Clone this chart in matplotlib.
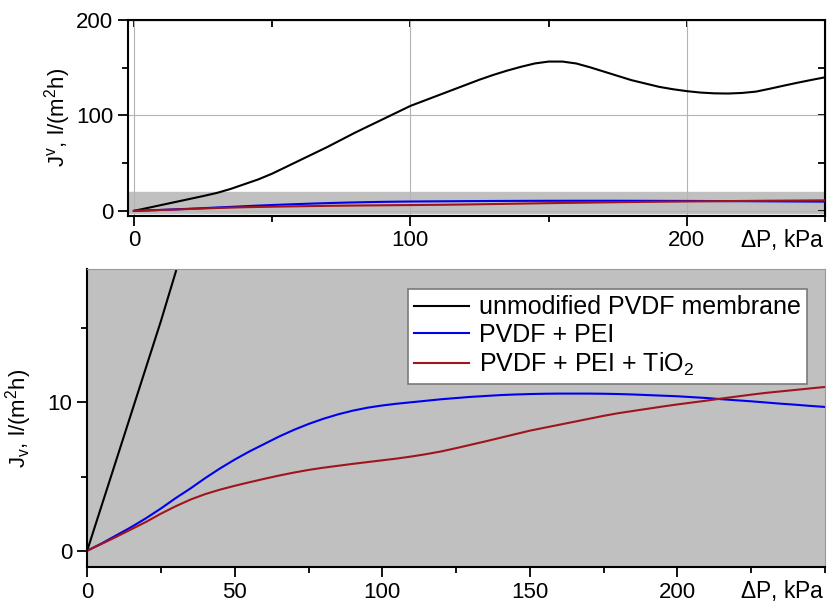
import matplotlib.pyplot as plt
from matplotlib.ticker import MultipleLocator

plt.rcParams['font.family'] = ['Liberation Sans', 'DejaVu Sans']
plt.rcParams['mathtext.fontset'] = 'custom'
plt.rcParams['mathtext.rm'] = 'Liberation Sans'
plt.rcParams['mathtext.it'] = 'Liberation Sans'

# pressure, kPa
dp = [0, 5, 10, 15, 20, 25, 30, 35, 40, 45, 50, 55, 60, 65, 70, 75, 80, 85,
      90, 95, 100, 105, 110, 115, 120, 125, 130, 135, 140, 145, 150, 155,
      160, 165, 170, 175, 180, 185, 190, 195, 200, 205, 210, 215, 220, 225,
      230, 235, 240, 245, 250]

# flux, l/(m2 h)
j_pvdf = [0, 3.1, 6.2, 9.3, 12.4, 15.5, 18.8, 23, 28, 33, 39, 46, 53, 60,
          67, 74.5, 82, 89, 96, 103, 110, 115.5, 121, 126.5, 132, 137.5,
          142.5, 147, 151, 154.5, 156.5, 156.5, 154.5, 150.5, 146, 141.5,
          137, 133.5, 130, 127.5, 125.5, 124, 123.2, 123, 123.6, 125, 128,
          131.2, 134.3, 137.2, 140]
j_pei = [0, 0.5, 1.05, 1.6, 2.2, 2.85, 3.55, 4.2, 4.9, 5.55, 6.15, 6.7, 7.2,
         7.7, 8.15, 8.55, 8.9, 9.2, 9.45, 9.65, 9.8, 9.92, 10.02, 10.12,
         10.22, 10.3, 10.38, 10.44, 10.5, 10.54, 10.57, 10.59, 10.6, 10.6,
         10.6, 10.59, 10.57, 10.54, 10.5, 10.46, 10.42, 10.36, 10.3, 10.22,
         10.15, 10.08, 10.0, 9.92, 9.85, 9.77, 9.7]
j_tio2 = [0, 0.47, 0.95, 1.45, 1.95, 2.5, 3.0, 3.45, 3.82, 4.12, 4.38, 4.62,
          4.85, 5.07, 5.27, 5.45, 5.6, 5.73, 5.86, 5.98, 6.1, 6.22, 6.36,
          6.52, 6.7, 6.92, 7.15, 7.38, 7.62, 7.86, 8.1, 8.3, 8.5, 8.7, 8.9,
          9.1, 9.28, 9.43, 9.58, 9.73, 9.87, 10.0, 10.13, 10.27, 10.4, 10.53,
          10.65, 10.75, 10.85, 10.95, 11.05]

labels = ['unmodified PVDF membrane', 'PVDF + PEI', r'PVDF + PEI + TiO$_2$']
colors = ['black', '#0000ee', '#a0141e']
series = [j_pvdf, j_pei, j_tio2]

zoom_y = (-1.1, 19.0)
fs = 16

fig = plt.figure(figsize=(8.3, 6.08), dpi=100)

# ---- top panel: full range ----
ax1 = fig.add_axes([0.154, 0.645, 0.840, 0.322])
ax1.axhspan(-2.2, 19.8, color='#c0c0c0', zorder=0)
for ys, c in zip(series, colors):
    ax1.plot(dp, ys, color=c, lw=1.5, zorder=3)
ax1.set_xlim(-2.2, 250)
ax1.set_ylim(-5.2, 200)
ax1.xaxis.set_major_locator(MultipleLocator(100))
ax1.xaxis.set_minor_locator(MultipleLocator(50))
ax1.yaxis.set_major_locator(MultipleLocator(100))
ax1.yaxis.set_minor_locator(MultipleLocator(50))
ax1.grid(True, which='major', color='#b4b4b4', lw=0.8, zorder=1)
ax1.tick_params(which='major', direction='out', length=7, width=1.3, labelsize=fs)
ax1.tick_params(which='minor', direction='out', length=4, width=1.3)
for s in ax1.spines.values():
    s.set_linewidth(1.5)
sx = ax1.secondary_xaxis('top')
sx.xaxis.set_major_locator(MultipleLocator(50))
sx.tick_params(direction='in', length=5, width=1.3, labeltop=False)
sy = ax1.secondary_yaxis('right')
sy.yaxis.set_major_locator(MultipleLocator(50))
sy.tick_params(direction='in', length=5, width=1.3, labelright=False)
ax1.set_ylabel(r'J$^{\mathrm{v}}$, l/(m$^2$h)', fontsize=fs)
ax1.yaxis.set_label_coords(-0.078, 0.5)
ax1.annotate(r'$\Delta$P, kPa', xy=(1.0, 0), xycoords='axes fraction',
             xytext=(0, -8), textcoords='offset points', ha='right', va='top',
             fontsize=16.5)

# ---- bottom panel: zoomed region ----
ax2 = fig.add_axes([0.105, 0.0674, 0.889, 0.490])
ax2.set_facecolor('#c0c0c0')
for ys, c, lab in zip(series, colors, labels):
    ax2.plot(dp, ys, color=c, lw=1.5, label=lab)
ax2.set_xlim(0, 250)
ax2.set_ylim(*zoom_y)
ax2.set_xticks([0, 50, 100, 150, 200])
ax2.xaxis.set_minor_locator(MultipleLocator(25))
ax2.set_yticks([0, 10])
ax2.yaxis.set_minor_locator(MultipleLocator(5))
ax2.tick_params(which='major', direction='out', length=7, width=1.3, labelsize=fs)
ax2.tick_params(which='minor', direction='out', length=4, width=1.3)
ax2.spines['left'].set_linewidth(1.5)
ax2.spines['bottom'].set_linewidth(1.5)
ax2.spines['top'].set_color('#9a9a9a')
ax2.spines['right'].set_color('#9a9a9a')
ax2.set_ylabel(r'J$_{\mathrm{v}}$, l/(m$^2$h)', fontsize=fs)
ax2.yaxis.set_label_coords(-0.072, 0.5)
ax2.annotate(r'$\Delta$P, kPa', xy=(1.0, 0), xycoords='axes fraction',
             xytext=(0, -8), textcoords='offset points', ha='right', va='top',
             fontsize=16.5)
leg = ax2.legend(loc='upper right', fontsize=18, fancybox=False,
                 framealpha=1, edgecolor='#7a7a7a', handlelength=2.2,
                 handletextpad=0.4, borderpad=0.25, labelspacing=0.15,
                 bbox_to_anchor=(0.993, 0.975))
leg.get_frame().set_linewidth(1.2)

fig.savefig('out.png', dpi=100)
